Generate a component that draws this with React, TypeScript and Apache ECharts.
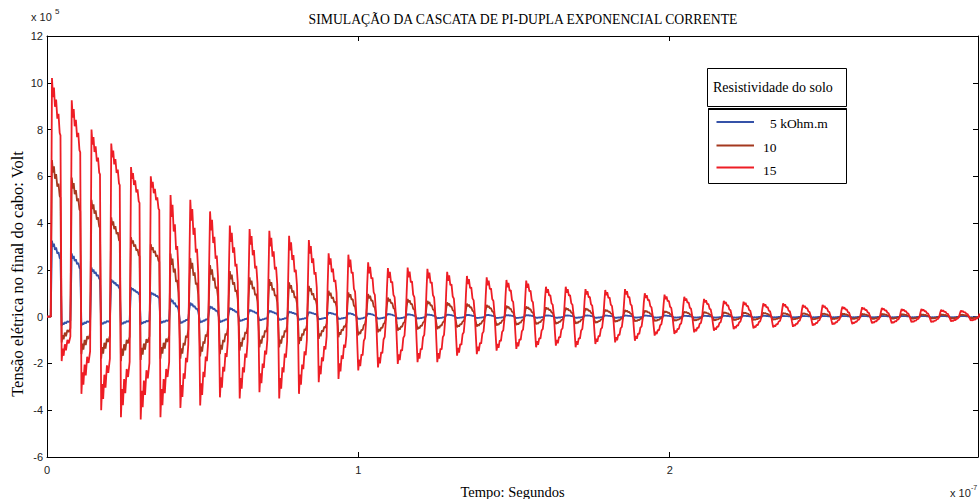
import React, { useEffect, useRef } from "react";
import * as echarts from "echarts";

const TITLE = "SIMULAÇÃO DA CASCATA DE PI-DUPLA EXPONENCIAL CORRENTE";
const X_LABEL = "Tempo: Segundos";
const Y_LABEL = "Tensão elétrica no final do cabo: Volt";
const LEGEND_TITLE = "Resistividade do solo";
const SERIES_NAMES = ["5 kOhm.m", "10", "15"];
const COLORS = ["#3552a8", "#a4391f", "#ee1d25"];

// axis ranges (x in units of 10^-7 s, y in units of 10^5 V)
const X_MIN = 0;
const X_MAX = 2.99;
const X_STEP = 1;
const Y_MIN = -6;
const Y_MAX = 12;
const Y_STEP = 2;

// oscillation timing
const FIRST_PEAK = 0.016;
const PERIOD = 0.06346;

// per-cycle peak and trough values (x10^5 V)
const BLUE_PEAKS = [
  3.25, 2.7, 2.1, 1.6, 1.25, 1.05, 0.78, 0.6, 0.45, 0.38,
  0.3, 0.26, 0.22, 0.2, 0.18, 0.16, 0.14, 0.12, 0.11, 0.1,
  0.09, 0.08, 0.08, 0.07, 0.07, 0.06, 0.06, 0.06, 0.05, 0.05,
  0.05, 0.05, 0.04, 0.04, 0.04, 0.04, 0.04, 0.03, 0.03, 0.03,
  0.03, 0.03, 0.03, 0.03, 0.03, 0.03, 0.03,
];
const BLUE_TROUGHS = [
  -0.38, -0.38, -0.36, -0.36, -0.34, -0.3, -0.3, -0.26, -0.25, -0.2,
  -0.17, -0.15, -0.14, -0.12, -0.11, -0.1, -0.09, -0.08, -0.08, -0.07,
  -0.06, -0.06, -0.06, -0.06, -0.05, -0.05, -0.05, -0.05, -0.05, -0.04,
  -0.04, -0.04, -0.04, -0.04, -0.04, -0.03, -0.03, -0.03, -0.03, -0.03,
  -0.03, -0.03, -0.03, -0.03, -0.03, -0.03, -0.03,
];
const BROWN_PEAKS = [
  6.7, 5.95, 5.0, 4.25, 3.4, 3.1, 2.7, 2.5, 2.2, 1.95,
  1.68, 1.61, 1.47, 1.32, 1.11, 1.04, 0.97, 0.82, 0.76, 0.68,
  0.61, 0.56, 0.5, 0.47, 0.44, 0.4, 0.38, 0.36, 0.3, 0.28,
  0.26, 0.24, 0.22, 0.2, 0.19, 0.18, 0.17, 0.16, 0.15, 0.14,
  0.13, 0.12, 0.12, 0.11, 0.1, 0.1, 0.09,
];
const BROWN_TROUGHS = [
  -1.1, -1.6, -1.8, -1.9, -1.85, -1.8, -1.8, -1.7, -1.6, -1.45,
  -1.31, -1.31, -1.17, -0.95, -0.88, -0.8, -0.67, -0.6, -0.55, -0.53,
  -0.46, -0.42, -0.38, -0.36, -0.33, -0.31, -0.3, -0.27, -0.22, -0.2,
  -0.19, -0.18, -0.17, -0.16, -0.15, -0.14, -0.13, -0.12, -0.12, -0.11,
  -0.1, -0.1, -0.09, -0.09, -0.08, -0.08, -0.07,
];
const RED_PEAKS = [
  10.2, 9.25, 8.0, 7.4, 6.4, 6.0, 5.2, 5.0, 4.5, 3.9,
  3.75, 3.67, 3.46, 3.28, 2.71, 2.65, 2.32, 2.08, 2.1, 2.05,
  1.92, 1.74, 1.68, 1.57, 1.54, 1.28, 1.28, 1.18, 1.14, 1.18,
  1.0, 0.94, 0.85, 0.76, 0.68, 0.64, 0.57, 0.57, 0.5, 0.5,
  0.43, 0.4, 0.37, 0.33, 0.33, 0.29, 0.26,
];
const RED_TROUGHS = [
  -1.9, -3.3, -4.0, -4.3, -4.4, -4.3, -3.9, -3.8, -3.45, -3.5,
  -3.23, -3.5, -3.3, -2.8, -2.66, -2.3, -2.17, -2.02, -1.95, -1.95,
  -1.67, -1.6, -1.45, -1.38, -1.31, -1.24, -1.31, -1.17, -1.1, -1.03,
  -0.81, -0.74, -0.67, -0.6, -0.53, -0.5, -0.46, -0.43, -0.38, -0.34,
  -0.31, -0.28, -0.28, -0.24, -0.24, -0.2, -0.17,
];

// one-cycle waveform shapes: [phase, weight, 1 = of peak / 0 = of trough]
const SHAPE_EARLY: number[][] = [
  [0.0, 1.0, 1], [0.05, 0.92, 1], [0.1, 0.96, 1], [0.15, 0.88, 1], [0.21, 0.91, 1],
  [0.27, 0.83, 1], [0.33, 0.85, 1], [0.39, 0.77, 1], [0.43, 0.76, 1],
  [0.49, 1.0, 0], [0.54, 0.72, 0], [0.59, 0.88, 0], [0.65, 0.62, 0], [0.71, 0.76, 0],
  [0.78, 0.52, 0], [0.85, 0.6, 0], [0.93, 0.45, 0],
];
const SHAPE_MID: number[][] = [
  [0.0, 1.0, 1], [0.05, 0.82, 1], [0.1, 0.92, 1], [0.16, 0.7, 1], [0.22, 0.76, 1],
  [0.28, 0.55, 1], [0.34, 0.58, 1], [0.4, 0.38, 1], [0.46, 0.3, 0],
  [0.5, 1.0, 0], [0.55, 0.75, 0], [0.6, 0.88, 0], [0.66, 0.62, 0], [0.72, 0.68, 0],
  [0.78, 0.45, 0], [0.84, 0.5, 0], [0.9, 0.3, 0], [0.95, 0.4, 1],
];
const SHAPE_LATE: number[][] = [
  [0.0, 1.0, 1], [0.05, 0.8, 1], [0.1, 0.92, 1], [0.16, 0.7, 1], [0.22, 0.72, 1],
  [0.28, 0.45, 1], [0.34, 0.4, 1], [0.4, 0.05, 1], [0.45, 0.5, 0],
  [0.5, 1.0, 0], [0.55, 0.8, 0], [0.6, 0.92, 0], [0.66, 0.7, 0], [0.72, 0.72, 0],
  [0.78, 0.45, 0], [0.84, 0.4, 0], [0.9, 0.05, 0], [0.95, 0.5, 1],
];

function buildSeries(peaks: number[], troughs: number[]): number[][] {
  const pts: number[][] = [
    [0, 0],
    [FIRST_PEAK - 0.004, 0],
  ];
  for (let k = 0; k < peaks.length; k++) {
    const shape = k < 6 ? SHAPE_EARLY : k < 15 ? SHAPE_MID : SHAPE_LATE;
    for (const [ph, w, isPeak] of shape) {
      const t = FIRST_PEAK + (k + ph) * PERIOD;
      const v = isPeak ? w * peaks[k] : w * troughs[k];
      pts.push([t, +v.toFixed(4)]);
    }
  }
  return pts;
}

const SERF = '"Liberation Serif", "Times New Roman", serif';
const SANS = '"Liberation Sans", Arial, sans-serif';

export default function App() {
  const ref = useRef<HTMLDivElement>(null);
  useEffect(() => {
    if (!ref.current) return;
    const chart = echarts.init(ref.current, undefined, { renderer: "svg" });
    const data = [
      buildSeries(BLUE_PEAKS, BLUE_TROUGHS),
      buildSeries(BROWN_PEAKS, BROWN_TROUGHS),
      buildSeries(RED_PEAKS, RED_TROUGHS),
    ];
    const axisLine = { show: true, onZero: false, lineStyle: { color: "#000", width: 1 } };
    const tick = { show: true, inside: true, length: 5, lineStyle: { color: "#000" } };
    const legendRows = [122, 145.5, 167.5];
    const legendTextX = [770, 763, 763];
    const legendTextY = [123, 147, 170];
    chart.setOption({
      animation: false,
      backgroundColor: "#fff",
      grid: {
        left: 47,
        right: 2,
        top: 36,
        bottom: 42,
        containLabel: false,
        outerBoundsMode: "none",
      },
      xAxis: [
        {
          type: "value",
          min: X_MIN,
          max: X_MAX,
          interval: X_STEP,
          position: "bottom",
          axisLine,
          axisTick: tick,
          splitLine: { show: false },
          axisLabel: {
            color: "#222",
            fontSize: 11,
            fontFamily: SANS,
            margin: 7,
            showMaxLabel: false,
          },
          name: X_LABEL,
          nameLocation: "middle",
          nameGap: 27,
          nameTextStyle: { fontFamily: SERF, fontSize: 14.5, color: "#000" },
        },
        {
          type: "value",
          min: X_MIN,
          max: X_MAX,
          interval: X_STEP,
          position: "top",
          axisLine,
          axisTick: tick,
          splitLine: { show: false },
          axisLabel: { show: false },
        },
      ],
      yAxis: [
        {
          type: "value",
          min: Y_MIN,
          max: Y_MAX,
          interval: Y_STEP,
          position: "left",
          axisLine,
          axisTick: tick,
          splitLine: { show: false },
          axisLabel: { color: "#222", fontSize: 11, fontFamily: SANS, margin: 4 },
        },
        {
          type: "value",
          min: Y_MIN,
          max: Y_MAX,
          interval: Y_STEP,
          position: "right",
          axisLine,
          axisTick: tick,
          splitLine: { show: false },
          axisLabel: { show: false },
        },
      ],
      series: SERIES_NAMES.map((name, i) => ({
        name,
        type: "line",
        data: data[i],
        xAxisIndex: 0,
        yAxisIndex: 0,
        showSymbol: false,
        symbol: "none",
        clip: true,
        lineStyle: { color: COLORS[i], width: 1.8 },
        itemStyle: { color: COLORS[i] },
        z: 2 + i,
      })),
      graphic: [
        {
          type: "text",
          x: 523,
          y: 19,
          style: {
            text: TITLE,
            font: `13.7px ${SERF}`,
            fill: "#000",
            textAlign: "center",
            textVerticalAlign: "middle",
          },
        },
        {
          type: "text",
          x: 17,
          y: 274,
          rotation: Math.PI / 2,
          style: {
            text: Y_LABEL,
            font: `16.5px ${SERF}`,
            fill: "#000",
            textAlign: "center",
            textVerticalAlign: "middle",
          },
        },
        {
          type: "text",
          x: 31,
          y: 17,
          style: { text: "x 10", font: `11px ${SANS}`, fill: "#222", textVerticalAlign: "middle" },
        },
        {
          type: "text",
          x: 55,
          y: 11,
          style: { text: "5", font: `8px ${SANS}`, fill: "#222", textVerticalAlign: "middle" },
        },
        {
          type: "text",
          x: 950,
          y: 493,
          style: { text: "x 10", font: `11px ${SANS}`, fill: "#222", textVerticalAlign: "middle" },
        },
        {
          type: "text",
          x: 971,
          y: 487,
          style: { text: "-7", font: `7px ${SANS}`, fill: "#222", textVerticalAlign: "middle" },
        },
        {
          type: "rect",
          z: 100,
          shape: { x: 707.5, y: 68.5, width: 139, height: 38 },
          style: { fill: "#fff", stroke: "#000", lineWidth: 1 },
        },
        {
          type: "text",
          z: 101,
          x: 713,
          y: 87,
          style: {
            text: LEGEND_TITLE,
            font: `14px ${SERF}`,
            fill: "#000",
            textVerticalAlign: "middle",
          },
        },
        {
          type: "rect",
          z: 100,
          shape: { x: 708.5, y: 108.5, width: 138, height: 75 },
          style: { fill: "#fff", stroke: "#000", lineWidth: 1 },
        },
        {
          type: "line",
          z: 101,
          shape: { x1: 708.5, y1: 109, x2: 846.5, y2: 109 },
          style: { stroke: "#000", lineWidth: 2 },
        },
        ...SERIES_NAMES.map((n, i) => ({
          type: "line",
          z: 101,
          shape: { x1: 716.5, y1: legendRows[i], x2: 754, y2: legendRows[i] },
          style: { stroke: COLORS[i], lineWidth: 2 },
        })),
        ...SERIES_NAMES.map((n, i) => ({
          type: "text",
          z: 101,
          x: legendTextX[i],
          y: legendTextY[i],
          style: { text: n, font: `13.5px ${SERF}`, fill: "#000", textVerticalAlign: "middle" },
        })),
      ],
    });
    return () => chart.dispose();
  }, []);
  return (
    <div
      ref={ref}
      style={{ position: "fixed", left: 0, top: 0, width: 980, height: 499, background: "#fff" }}
    />
  );
}
